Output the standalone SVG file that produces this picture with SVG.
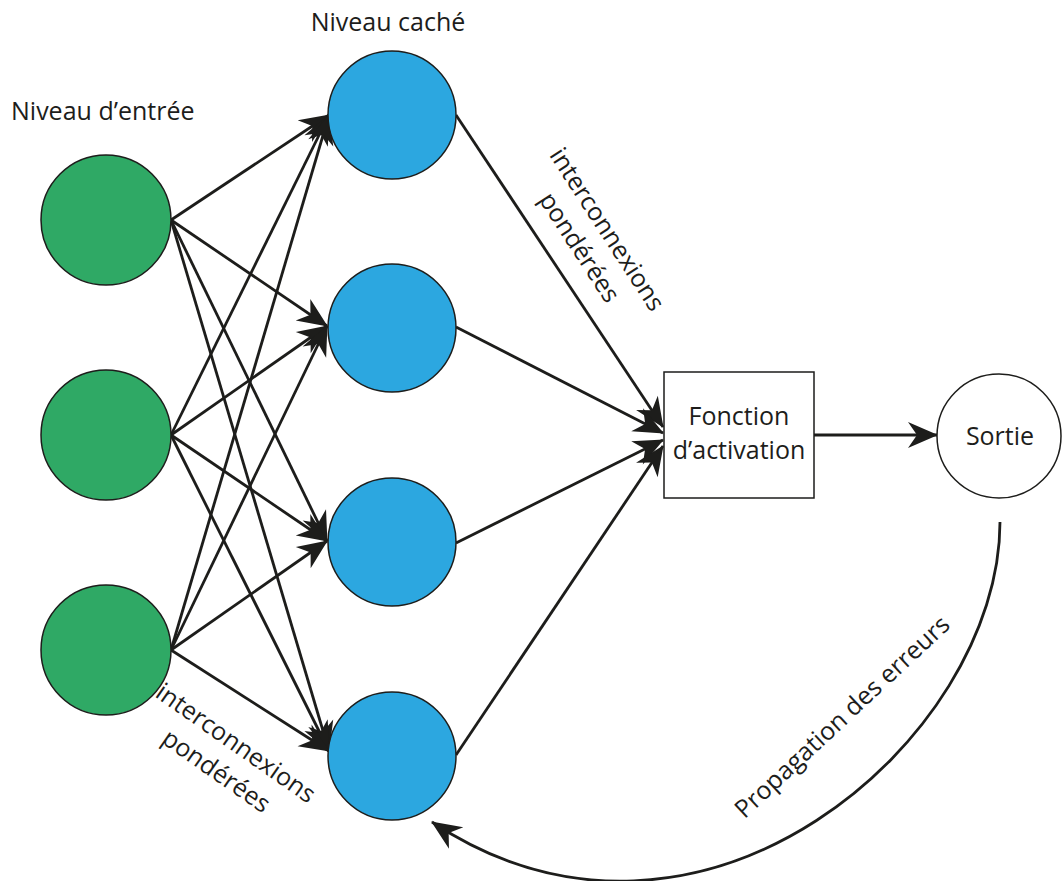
<svg xmlns="http://www.w3.org/2000/svg" width="1062" height="881" viewBox="0 0 1062 881">
<style>
.lbl{font-family:"Open Sans","Noto Sans",sans-serif;font-size:25px;fill:#1d1d1b}
.edge{stroke:#1d1d1b;stroke-width:2.8;fill:none}
.in{fill:#2fa965;stroke:#1d1d1b;stroke-width:1.5}
.hid{fill:#2ca7e0;stroke:#1d1d1b;stroke-width:1.5}
.box{fill:#fff;stroke:#1d1d1b;stroke-width:1.5}
</style>
<defs>
<marker id="ah" markerUnits="userSpaceOnUse" markerWidth="34" markerHeight="30" viewBox="-31 -15 34 30" refX="0" refY="0" orient="auto">
<path d="M1,0 L-29,-13 L-20,0 L-29,13 Z" fill="#1d1d1b"/>
</marker>
</defs>
<rect width="1062" height="881" fill="#fff"/>
<g id="connectors">
<line class="edge" x1="171" y1="220" x2="329" y2="115" marker-end="url(#ah)"/>
<line class="edge" x1="171" y1="220" x2="327" y2="326" marker-end="url(#ah)"/>
<line class="edge" x1="171" y1="220" x2="327" y2="541" marker-end="url(#ah)"/>
<line class="edge" x1="171" y1="220" x2="329" y2="751" marker-end="url(#ah)"/>
<line class="edge" x1="171" y1="435" x2="329" y2="115" marker-end="url(#ah)"/>
<line class="edge" x1="171" y1="435" x2="327" y2="326" marker-end="url(#ah)"/>
<line class="edge" x1="171" y1="435" x2="327" y2="541" marker-end="url(#ah)"/>
<line class="edge" x1="171" y1="435" x2="329" y2="751" marker-end="url(#ah)"/>
<line class="edge" x1="171" y1="650" x2="329" y2="115" marker-end="url(#ah)"/>
<line class="edge" x1="171" y1="650" x2="327" y2="326" marker-end="url(#ah)"/>
<line class="edge" x1="171" y1="650" x2="327" y2="541" marker-end="url(#ah)"/>
<line class="edge" x1="171" y1="650" x2="329" y2="751" marker-end="url(#ah)"/>
<line class="edge" x1="456" y1="115" x2="663" y2="427" marker-end="url(#ah)"/>
<line class="edge" x1="456" y1="327" x2="663" y2="433" marker-end="url(#ah)"/>
<line class="edge" x1="456" y1="543" x2="663" y2="440" marker-end="url(#ah)"/>
<line class="edge" x1="456" y1="755" x2="663" y2="446" marker-end="url(#ah)"/>
<line class="edge" x1="814" y1="435" x2="937" y2="435" marker-end="url(#ah)"/>
<path class="edge" d="M1000,522 C1000,740 700,1000 432,822" marker-end="url(#ah)"/>
</g>
<g id="input1"><circle class="in" cx="106" cy="220" r="65"/></g>
<g id="input2"><circle class="in" cx="106" cy="435" r="65"/></g>
<g id="input3"><circle class="in" cx="106" cy="650" r="65"/></g>
<g id="hidden1"><circle class="hid" cx="392" cy="115" r="64"/></g>
<g id="hidden2"><circle class="hid" cx="392" cy="328" r="64"/></g>
<g id="hidden3"><circle class="hid" cx="392" cy="542" r="64"/></g>
<g id="hidden4"><circle class="hid" cx="392" cy="756" r="64"/></g>
<g id="activation">
<rect class="box" x="664" y="372" width="150" height="126"/>
<text class="lbl" x="739" y="425" text-anchor="middle">Fonction</text>
<text class="lbl" x="739" y="459" text-anchor="middle">d’activation</text>
</g>
<g id="output">
<circle class="box" cx="999" cy="436" r="62"/>
<text class="lbl" x="1000" y="445" text-anchor="middle">Sortie</text>
</g>
<g id="labels">
<text class="lbl" x="11" y="120">Niveau d’entrée</text>
<text class="lbl" x="388" y="31" text-anchor="middle">Niveau caché</text>
<text class="lbl" text-anchor="middle" transform="translate(600,234) rotate(57)"><tspan x="0" y="0">interconnexions</tspan><tspan x="0" y="33">pondérées</tspan></text>
<text class="lbl" text-anchor="middle" transform="translate(231,750) rotate(35)"><tspan x="0" y="0">interconnexions</tspan><tspan x="0" y="34">pondérées</tspan></text>
<text class="lbl" text-anchor="middle" transform="translate(848,723) rotate(-43)">Propagation des erreurs</text>
</g>
</svg>
